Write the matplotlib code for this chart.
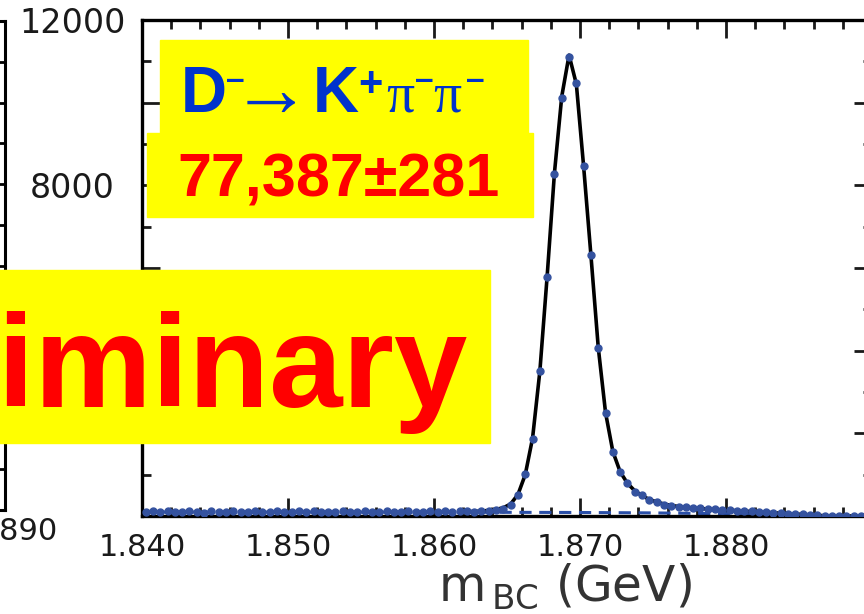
import numpy as np
import matplotlib.pyplot as plt
from matplotlib.patches import Rectangle
from matplotlib.ticker import MultipleLocator

# m_BC bin centres (GeV), 0.5 MeV bins from 1.840 to 1.890
mbc = 1.84025 + 0.0005 * np.arange(100)

# events per bin
counts = [95, 110, 85, 120, 100, 90, 115, 105, 80, 125,
          100, 95, 110, 85, 105, 120, 90, 100, 115, 95,
          85, 110, 100, 125, 90, 105, 95, 115, 100, 85,
          120, 105, 95, 110, 90, 100, 115, 85, 105, 120,
          95, 110, 100, 125, 115, 105, 120, 110, 140, 175,
          266, 510, 1014, 1859, 3508, 5788, 8282, 10110, 11114, 10486,
          8458, 6326, 4073, 2504, 1538, 1055, 800, 590, 510, 390,
          340, 275, 250, 225, 215, 195, 185, 170, 165, 150,
          145, 130, 125, 115, 100, 95, 80, 75, 60, 50,
          40, 30, 15, 5, 0, 0, 0, 0, 0, 0]

# total fit (signal + background), from bin 44 on
fit_start = 44
fit_counts = [105, 110, 120, 135, 160, 200, 290, 520, 1000, 1880,
              3500, 5800, 8300, 10150, 11150, 10450, 8450, 6300, 4080, 2500,
              1560, 1070, 790, 610, 490, 400, 340, 290, 255, 230,
              210, 195, 180, 168, 158, 148, 138, 128, 118, 108,
              98, 88, 78, 68, 58, 48, 38, 27, 16, 6,
              0, 0, 0, 0, 0, 0]

# background (ARGUS) shape
bg_mbc = [1.840, 1.850, 1.860, 1.870, 1.875, 1.880, 1.883, 1.885, 1.8865, 1.890]
bg_counts = [95, 95, 92, 85, 75, 55, 38, 22, 0, 0]

x_ticks = [1.840, 1.850, 1.860, 1.870, 1.880, 1.890]
x_labels = ['1.840', '1.850', '1.860', '1.870', '1.880', '']
y_ticks = [0, 2000, 4000, 6000, 8000, 10000, 12000]
y_labels = ['', '', '', '', '8000', '', '12000']

W, H = 864, 614
fig = plt.figure(figsize=(8.64, 6.14), dpi=100)

# neighbouring panel on the left (only its right edge is visible)
axl = fig.add_axes([-0.5, 1 - 510 / H, 0.5 + 5 / W, (510 - 21) / H])
axl.set_xlim(1.840, 1.890)
axl.set_ylim(0, 12000)
axl.set_xticks([1.890])
axl.set_xticklabels([])
axl.yaxis.set_major_locator(MultipleLocator(1000))
axl.set_yticklabels([])
axl.tick_params(direction='in', length=5, width=2, right=True, left=False)
for s in axl.spines.values():
    s.set_linewidth(2.2)
fig.text(14 / W, 1 - 531 / H, '1.890', fontsize=22, color='#1a1a1a',
         ha='center', va='center')

# main panel
ax = fig.add_axes([142 / W, 1 - 516 / H, 730 / W, 496 / H])
ax.plot(bg_mbc, bg_counts, color='#2a4fa8', lw=2.2, ls=(0, (4, 2.5)), zorder=2)
ax.plot(mbc[fit_start:], fit_counts, color='black', lw=2.6, zorder=3)
ax.plot(mbc, counts, 'o', color='#34529f', ms=5, zorder=4)

ax.set_xlim(1.840, 1.890)
ax.set_ylim(0, 12000)
ax.set_xticks(x_ticks)
ax.set_xticklabels(x_labels)
ax.xaxis.set_minor_locator(MultipleLocator(0.002))
ax.set_yticks(y_ticks)
ax.set_yticklabels(y_labels)
ax.yaxis.set_minor_locator(MultipleLocator(1000))

ax.tick_params(which='both', direction='in', top=True, right=True, width=2,
               colors='#1a1a1a')
ax.tick_params(which='major', length=13)
ax.tick_params(which='minor', length=6.5)
ax.tick_params(axis='x', labelsize=22, pad=12)
ax.tick_params(axis='y', labelsize=24, pad=50)
for lab in ax.get_yticklabels():
    lab.set_horizontalalignment('center')
for s in ax.spines.values():
    s.set_linewidth(2.4)

fig.text(565 / W, 1 - 601 / H, r'$\mathrm{m}_{\,\mathrm{BC}}$ (GeV)',
         fontsize=35, ha='center', va='baseline', color='#333333',
         family='DejaVu Sans', math_fontfamily='dejavusans')

# yellow label boxes
yellow = '#ffff00'
fig.add_artist(Rectangle((160 / W, 1 - 133 / H), 368 / W, 93 / H,
                         transform=fig.transFigure, color=yellow, zorder=5))
fig.add_artist(Rectangle((147 / W, 1 - 217 / H), 386 / W, 84 / H,
                         transform=fig.transFigure, color=yellow, zorder=5))
fig.add_artist(Rectangle((-0.02, 1 - 443 / H), 490 / W + 0.02, 173 / H,
                         transform=fig.transFigure, color=yellow, zorder=5))

# decay mode, set piece by piece: text, x, baseline (px), size, family, weight
decay_parts = [('D', 181, 112, 46, 'Liberation Sans', 'bold'),
               ('\u2013', 226, 89, 24, 'Liberation Sans', 'bold'),
               ('\u2192', 231, 116, 58, 'Liberation Serif', 'normal'),
               ('K', 313, 112, 46, 'Liberation Sans', 'bold'),
               ('+', 358, 96, 30, 'Liberation Sans', 'bold'),
               ('\u03c0', 386, 112, 40, 'Liberation Serif', 'normal'),
               ('\u2013', 415, 89, 24, 'Liberation Sans', 'bold'),
               ('\u03c0', 433, 112, 40, 'Liberation Serif', 'normal'),
               ('\u2013', 466, 89, 24, 'Liberation Sans', 'bold')]
for txt, px, py, size, fam, wt in decay_parts:
    fig.text(px / W, 1 - py / H, txt, fontsize=size, family=fam, fontweight=wt,
             color='#0033cc', ha='left', va='baseline', zorder=6)

fig.text(177 / W, 1 - 197 / H, '77,387±281', fontsize=44, fontweight='bold',
         family='Liberation Sans', color='#ff0000', ha='left', va='baseline',
         zorder=6)
fig.text(467 / W, 1 - 407 / H, 'Preliminary', fontsize=95, fontweight='bold',
         family='Liberation Sans', color='#ff0000', ha='right', va='baseline',
         zorder=6)

fig.savefig('out.png', dpi=100)
